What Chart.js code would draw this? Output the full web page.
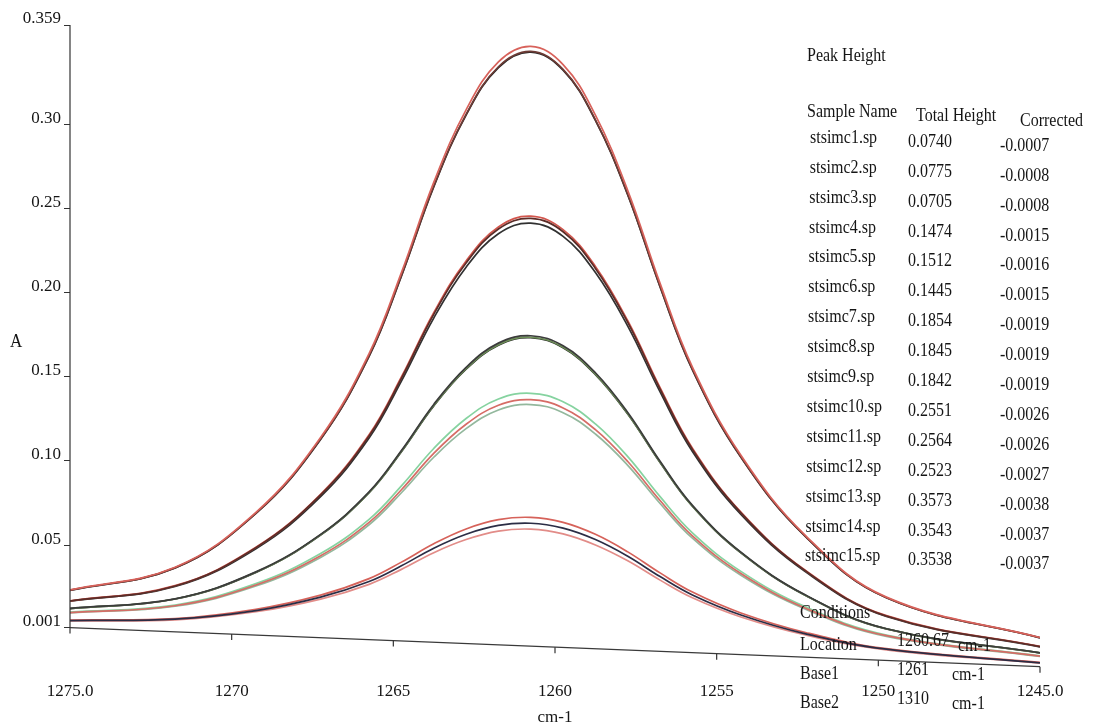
<!DOCTYPE html>
<html>
<head>
<meta charset="utf-8">
<title>Peak Height</title>
<script src="https://cdn.jsdelivr.net/npm/chart.js@4.4.1/dist/chart.umd.min.js"></script>
<style>
  html, body { margin: 0; padding: 0; background: #fff; }
  #wrap { width: 1093px; height: 725px; }
</style>
</head>
<body>
<div id="wrap"><canvas id="spectrum" width="1093" height="725"></canvas></div>
<script>
const wavenumbers = [1275, 1271.75, 1269.25, 1267.25, 1265.75, 1264.75, 1263.75, 1262.75, 1261.75, 1260.75,
                     1259.75, 1258.75, 1257.75, 1256.75, 1255.75, 1254.25, 1252.25, 1249.75, 1245];

const stsimc1  = [0.0052, 0.0060, 0.0111, 0.0191, 0.0284, 0.0377, 0.0482, 0.0565, 0.0617, 0.0630, 0.0601, 0.0533, 0.0434, 0.0313, 0.0204, 0.0085, -0.0027, -0.0118, -0.0199];
const stsimc2  = [0.0055, 0.0064, 0.0119, 0.0203, 0.0301, 0.0399, 0.0508, 0.0596, 0.0651, 0.0665, 0.0635, 0.0564, 0.0460, 0.0335, 0.0221, 0.0097, -0.0019, -0.0115, -0.0197];
const stsimc3  = [0.0050, 0.0056, 0.0104, 0.0179, 0.0267, 0.0356, 0.0455, 0.0533, 0.0583, 0.0595, 0.0567, 0.0501, 0.0407, 0.0292, 0.0187, 0.0073, -0.0034, -0.0122, -0.0201];
const stsimc4  = [0.0099, 0.0140, 0.0263, 0.0437, 0.0635, 0.0829, 0.1045, 0.1218, 0.1331, 0.1364, 0.1315, 0.1186, 0.0997, 0.0765, 0.0555, 0.0331, 0.0125, -0.0038, -0.0160];
const stsimc5  = [0.0102, 0.0144, 0.0271, 0.0450, 0.0653, 0.0852, 0.1074, 0.1252, 0.1368, 0.1402, 0.1352, 0.1220, 0.1026, 0.0788, 0.0573, 0.0344, 0.0133, -0.0034, -0.0158];
const stsimc6  = [0.0098, 0.0137, 0.0257, 0.0427, 0.0621, 0.0811, 0.1022, 0.1192, 0.1303, 0.1335, 0.1287, 0.1160, 0.0974, 0.0747, 0.0541, 0.0321, 0.0119, -0.0042, -0.0161];
const stsimc7  = [0.0124, 0.0181, 0.0341, 0.0564, 0.0816, 0.1062, 0.1336, 0.1556, 0.1700, 0.1744, 0.1684, 0.1524, 0.1288, 0.0998, 0.0736, 0.0458, 0.0203, 0.0003, -0.0140];
const stsimc8  = [0.0123, 0.0180, 0.0339, 0.0561, 0.0812, 0.1057, 0.1329, 0.1548, 0.1691, 0.1735, 0.1675, 0.1516, 0.1281, 0.0993, 0.0732, 0.0455, 0.0201, 0.0002, -0.0140];
const stsimc9  = [0.0123, 0.0180, 0.0338, 0.0560, 0.0811, 0.1055, 0.1327, 0.1545, 0.1688, 0.1732, 0.1672, 0.1513, 0.1279, 0.0991, 0.0731, 0.0454, 0.0201, 0.0002, -0.0140];
const stsimc10 = [0.0168, 0.0257, 0.0485, 0.0798, 0.1149, 0.1491, 0.1871, 0.2176, 0.2378, 0.2441, 0.2362, 0.2144, 0.1823, 0.1427, 0.1069, 0.0692, 0.0347, 0.0079, -0.0103];
const stsimc11 = [0.0169, 0.0259, 0.0487, 0.0802, 0.1156, 0.1499, 0.1881, 0.2188, 0.2390, 0.2454, 0.2374, 0.2156, 0.1833, 0.1435, 0.1076, 0.0696, 0.0349, 0.0081, -0.0102];
const stsimc12 = [0.0167, 0.0254, 0.0479, 0.0788, 0.1136, 0.1474, 0.1849, 0.2151, 0.2350, 0.2413, 0.2334, 0.2119, 0.1801, 0.1410, 0.1056, 0.0682, 0.0341, 0.0076, -0.0104];
const stsimc13 = [0.0234, 0.0369, 0.0695, 0.1140, 0.1638, 0.2119, 0.2655, 0.3086, 0.3371, 0.3463, 0.3355, 0.3054, 0.2607, 0.2055, 0.1558, 0.1034, 0.0557, 0.0191, -0.0049];
const stsimc14 = [0.0232, 0.0365, 0.0689, 0.1130, 0.1624, 0.2101, 0.2632, 0.3059, 0.3342, 0.3433, 0.3326, 0.3027, 0.2584, 0.2037, 0.1544, 0.1024, 0.0551, 0.0187, -0.0050];
const stsimc15 = [0.0231, 0.0365, 0.0688, 0.1128, 0.1621, 0.2098, 0.2628, 0.3055, 0.3337, 0.3428, 0.3321, 0.3023, 0.2580, 0.2034, 0.1541, 0.1022, 0.0550, 0.0187, -0.0051];

const spectra = [stsimc1, stsimc2, stsimc3, stsimc4, stsimc5, stsimc6, stsimc7, stsimc8,
                 stsimc9, stsimc10, stsimc11, stsimc12, stsimc13, stsimc14, stsimc15];

// the printed base line runs slightly downhill
const baseX = [1275, 1245];
const baseY = [0.001, -0.0222];

// peak table printed at the right
const sampleNames = ['stsimc1.sp', 'stsimc2.sp', 'stsimc3.sp', 'stsimc4.sp', 'stsimc5.sp', 'stsimc6.sp', 'stsimc7.sp',
                     'stsimc8.sp', 'stsimc9.sp', 'stsimc10.sp', 'stsimc11.sp', 'stsimc12.sp', 'stsimc13.sp', 'stsimc14.sp', 'stsimc15.sp'];
const totalHeight = [0.0740, 0.0775, 0.0705, 0.1474, 0.1512, 0.1445, 0.1854, 0.1845, 0.1842, 0.2551, 0.2564, 0.2523, 0.3573, 0.3543, 0.3538];
const correctedHeight = [-0.0007, -0.0008, -0.0008, -0.0015, -0.0016, -0.0015, -0.0019, -0.0019, -0.0019, -0.0026, -0.0026, -0.0027, -0.0038, -0.0037, -0.0037];

const conditionNames = ['Location', 'Base1', 'Base2'];
const conditionValues = ['1260.67', '1261', '1310'];

const xTicks = [1275, 1270, 1265, 1260, 1255, 1250, 1245];
const xTickLabels = ['1275.0', '1270', '1265', '1260', '1255', '1250', '1245.0'];
const yTicks = [0.001, 0.05, 0.10, 0.15, 0.20, 0.25, 0.30, 0.359];
const yTickLabels = ['0.001', '0.05', '0.10', '0.15', '0.20', '0.25', '0.30', '0.359'];

const lineColors = ['#2b2d45', '#d6625a', '#e28c88', '#d66c66', '#86d3a0', '#93b89d', '#3c3c3c', '#6e9158',
                    '#262626', '#5c2c27', '#d2564d', '#313131', '#d8625b', '#6d3b35', '#272727'];

const serif = "'Liberation Serif', 'Times New Roman', serif";
const ink = '#151515';
Chart.defaults.font.family = serif;
Chart.defaults.color = ink;

const datasets = sampleNames.map((name, i) => ({
  label: name,
  data: wavenumbers.map((w, j) => ({ x: w, y: spectra[i][j] })),
  borderColor: lineColors[i],
  borderWidth: 1.7,
  pointRadius: 0,
  tension: 0.4,
  fill: false
}));
datasets.push({
  label: 'base',
  data: baseX.map((w, j) => ({ x: w, y: baseY[j] })),
  borderColor: '#3a3a3a',
  borderWidth: 1.3,
  pointRadius: 0
});

function stretchText(ctx, s, px, py) {
  ctx.save();
  ctx.translate(px, py);
  ctx.scale(1, 1.15);
  ctx.fillText(s, 0, 0);
  ctx.restore();
}

const printout = {
  id: 'printout',
  afterDraw(chart) {
    const { ctx, chartArea, scales: { x, y } } = chart;
    ctx.save();
    ctx.strokeStyle = '#333';
    ctx.lineWidth = 1.2;

    // y axis only spans the labelled range
    ctx.beginPath();
    ctx.moveTo(chartArea.left, y.getPixelForValue(yTicks[yTicks.length - 1]));
    ctx.lineTo(chartArea.left, y.getPixelForValue(yTicks[0]));
    ctx.stroke();

    // small ticks hanging under the sloped base line
    xTicks.forEach(v => {
      const t = (v - baseX[0]) / (baseX[1] - baseX[0]);
      const px = x.getPixelForValue(v);
      const py = y.getPixelForValue(baseY[0] + t * (baseY[1] - baseY[0]));
      ctx.beginPath();
      ctx.moveTo(px, py);
      ctx.lineTo(px, py + 6);
      ctx.stroke();
    });

    ctx.fillStyle = ink;
    ctx.textBaseline = 'middle';
    ctx.textAlign = 'left';
    ctx.font = '17px ' + serif;
    stretchText(ctx, 'A', 10, 342);

    ctx.font = '16px ' + serif;
    stretchText(ctx, 'Peak Height', 807, 56);
    stretchText(ctx, 'Sample Name', 807, 112);
    stretchText(ctx, 'Total Height', 916, 116);
    stretchText(ctx, 'Corrected', 1020, 121);
    sampleNames.forEach((name, i) => {
      const ry = 138 + i * 29.9;
      stretchText(ctx, name, 810 - i * 0.35, ry);
      stretchText(ctx, totalHeight[i].toFixed(4), 908, ry + 4);
      stretchText(ctx, correctedHeight[i].toFixed(4), 1000, ry + 8);
    });

    stretchText(ctx, 'Conditions', 800, 613);
    conditionNames.forEach((name, i) => {
      const ry = 645 + i * 29;
      stretchText(ctx, name, 800, ry);
      stretchText(ctx, conditionValues[i], 897, ry - 4);
      stretchText(ctx, 'cm-1', i === 0 ? 958 : 952, ry + 1);
    });
    ctx.restore();
  }
};

new Chart(document.getElementById('spectrum'), {
  type: 'line',
  data: { datasets: datasets },
  plugins: [printout],
  options: {
    responsive: false,
    animation: false,
    devicePixelRatio: 1,
    layout: { padding: { top: 25, right: 53, bottom: 0, left: 0 } },
    plugins: { legend: { display: false }, tooltip: { enabled: false } },
    scales: {
      x: {
        type: 'linear',
        reverse: true,
        min: 1245,
        max: 1275,
        afterBuildTicks: s => { s.ticks = xTicks.map(v => ({ value: v })); },
        afterFit: s => { s.height = 57; },
        grid: { display: false },
        border: { display: false },
        ticks: {
          autoSkip: false,
          maxRotation: 0,
          padding: 5,
          font: { size: 17 },
          color: ink,
          callback: (v, i) => xTickLabels[i]
        },
        title: { display: true, text: 'cm-1', font: { size: 17 }, color: ink, padding: { top: 0, bottom: -3 } }
      },
      y: {
        min: -0.023,
        max: 0.359,
        afterBuildTicks: s => { s.ticks = yTicks.map(v => ({ value: v })); },
        afterFit: s => { s.width = 70; },
        grid: { display: true, drawOnChartArea: false, drawTicks: true, tickLength: 6, color: '#333' },
        border: { display: false },
        ticks: {
          autoSkip: false,
          padding: 3,
          labelOffset: -6,
          font: { size: 17 },
          color: ink,
          callback: (v, i) => yTickLabels[i]
        }
      }
    }
  }
});
</script>
</body>
</html>
